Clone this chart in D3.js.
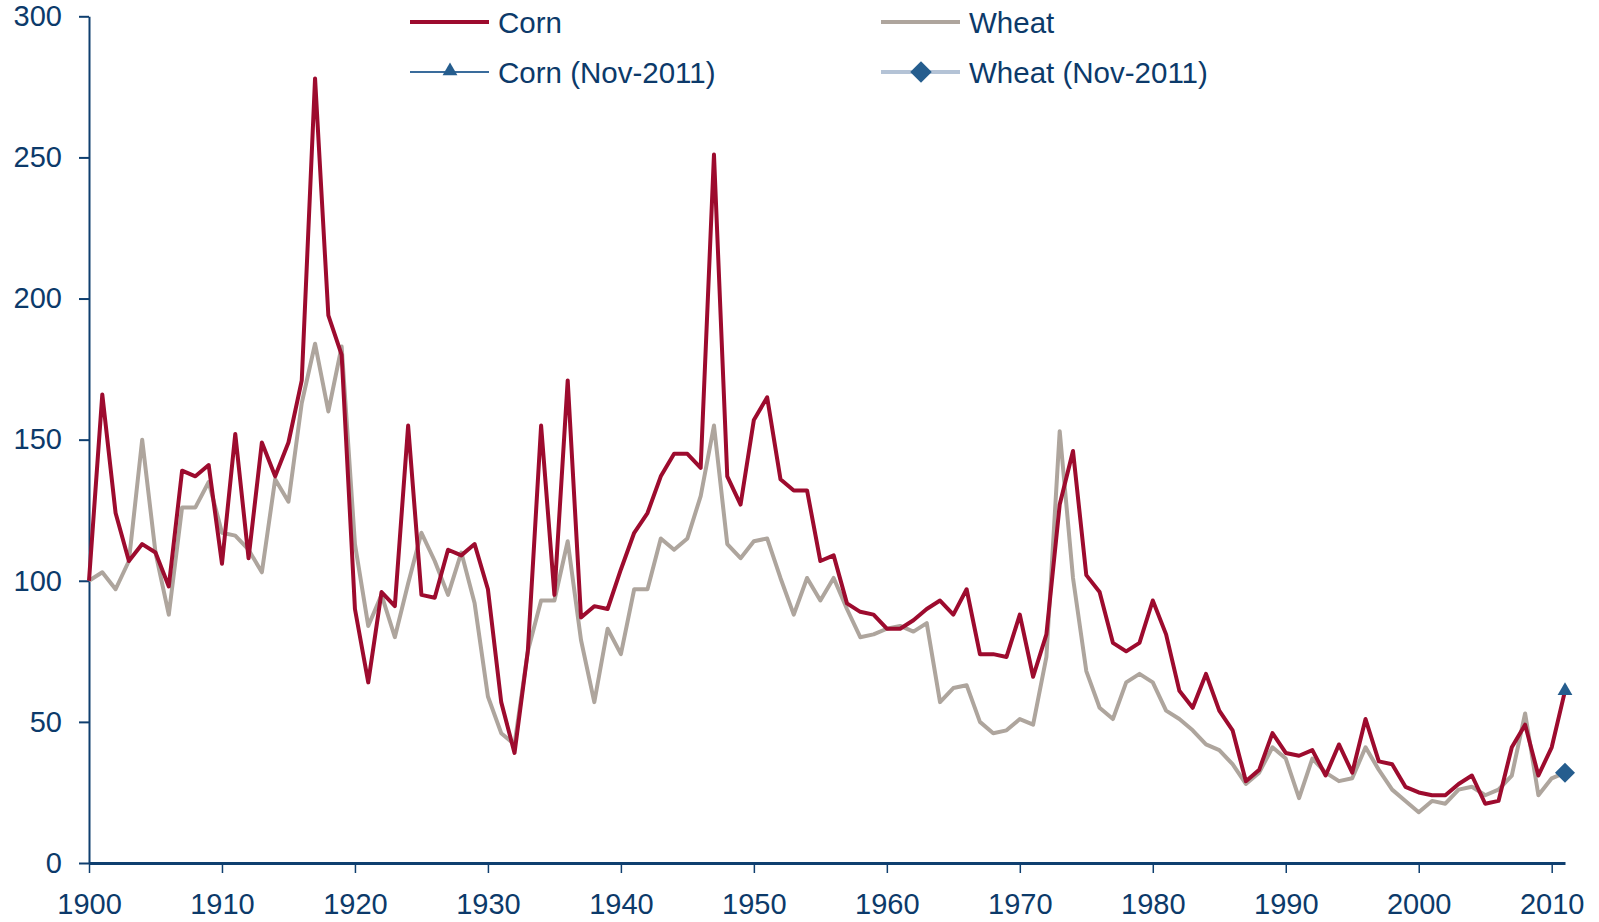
<!DOCTYPE html>
<html>
<head>
<meta charset="utf-8">
<script src="https://cdn.jsdelivr.net/npm/d3@7"></script>
<style>
  html, body { margin: 0; padding: 0; background: #fff; }
  svg { display: block; font-family: "Liberation Sans", Arial, sans-serif; }
</style>
</head>
<body>
<div id="chart"></div>
<script>
// Years 1900 - 2011
const years = d3.range(1900, 2012);

// Corn index (1900 = 100)
const corn = [
  100, 166, 124, 107, 113, 110, 98, 139, 137, 141,
  106, 152, 108, 149, 137, 149, 171, 278, 194, 180,
  90, 64, 96, 91, 155, 95, 94, 111, 109, 113,
  97, 57, 39, 75, 155, 95, 171, 87, 91, 90,
  104, 117, 124, 137, 145, 145, 140, 251, 137, 127,
  157, 165, 136, 132, 132, 107, 109, 92, 89, 88,
  83, 83, 86, 90, 93, 88, 97, 74, 74, 73,
  88, 66, 81, 127, 146, 102, 96, 78, 75, 78,
  93, 81, 61, 55, 67, 54, 47, 29, 33, 46,
  39, 38, 40, 31, 42, 32, 51, 36, 35, 27,
  25, 24, 24, 28, 31, 21, 22, 41, 49, 31,
  41, 61
];

// Wheat index (1900 = 100)
const wheat = [
  100, 103, 97, 107, 150, 110, 88, 126, 126, 135,
  117, 116, 111, 103, 136, 128, 163, 184, 160, 183,
  113, 84, 95, 80, 99, 117, 107, 95, 110, 92,
  59, 46, 42, 75, 93, 93, 114, 79, 57, 83,
  74, 97, 97, 115, 111, 115, 130, 155, 113, 108,
  114, 115, 101, 88, 101, 93, 101, 90, 80, 81,
  83, 84, 82, 85, 57, 62, 63, 50, 46, 47,
  51, 49, 73, 153, 101, 68, 55, 51, 64, 67,
  64, 54, 51, 47, 42, 40, 35, 28, 32, 41,
  37, 23, 37, 32, 29, 30, 41, 33, 26, 22,
  18, 22, 21, 26, 27, 24, 26, 31, 53, 24,
  30, 32
];

// Nov-2011 points
const cornNov2011 = [{ year: 2011, value: 61 }];
const wheatNov2011 = [{ year: 2011, value: 32 }];

const yTicks = [0, 50, 100, 150, 200, 250, 300];
const xTicks = d3.range(1900, 2011, 10);

const colors = {
  corn: "#9d0b2e",
  wheat: "#aea59d",
  marker: "#255d8e",
  wheatNovLine: "#b4c3d6",
  axis: "#0f3f6f",
  text: "#0c3a6a"
};

const width = 1599, height = 922;

const svg = d3.select("#chart").append("svg")
  .attr("width", width)
  .attr("height", height);

const x = d3.scaleLinear().domain([1900, 2011]).range([89, 1565]);
const y = d3.scaleLinear().domain([0, 300]).range([863, 16.3]);

// Y axis
const yAxis = svg.append("g")
  .attr("transform", `translate(${x(1900)},0)`)
  .call(d3.axisLeft(y).tickValues(yTicks).tickSize(10).tickSizeOuter(0).tickPadding(17));
yAxis.select(".domain").attr("stroke", colors.axis).attr("stroke-width", 2);
yAxis.selectAll(".tick line").attr("stroke", colors.axis).attr("stroke-width", 2);
yAxis.selectAll(".tick text")
  .attr("fill", colors.text)
  .attr("font-size", 29)
  .attr("font-family", "Liberation Sans, Arial, sans-serif");

// X axis
const xAxis = svg.append("g")
  .attr("transform", `translate(0,${y(0)})`)
  .call(d3.axisBottom(x).tickValues(xTicks).tickFormat(d3.format("d"))
    .tickSize(10).tickSizeOuter(0).tickPadding(20));
xAxis.select(".domain").attr("stroke", colors.axis).attr("stroke-width", 3);
xAxis.selectAll(".tick line").attr("stroke", colors.axis).attr("stroke-width", 1.5);
xAxis.selectAll(".tick text")
  .attr("fill", colors.text)
  .attr("font-size", 29)
  .attr("font-family", "Liberation Sans, Arial, sans-serif");

// Lines
const line = d3.line()
  .x((d, i) => x(years[i]))
  .y(d => y(d));

svg.append("path")
  .datum(wheat)
  .attr("d", line)
  .attr("fill", "none")
  .attr("stroke", colors.wheat)
  .attr("stroke-width", 4)
  .attr("stroke-linejoin", "round");

svg.append("path")
  .datum(corn)
  .attr("d", line)
  .attr("fill", "none")
  .attr("stroke", colors.corn)
  .attr("stroke-width", 4)
  .attr("stroke-linejoin", "round");

// Nov-2011 markers
const triangle = d3.symbol().type(d3.symbolTriangle).size(95);
const diamond = d3.symbol().type(d3.symbolSquare).size(200);

svg.selectAll(".corn-nov")
  .data(cornNov2011)
  .enter().append("path")
  .attr("class", "corn-nov")
  .attr("d", triangle)
  .attr("transform", d => `translate(${x(d.year)},${y(d.value)})`)
  .attr("fill", colors.marker);

svg.selectAll(".wheat-nov")
  .data(wheatNov2011)
  .enter().append("path")
  .attr("class", "wheat-nov")
  .attr("d", diamond)
  .attr("transform", d => `translate(${x(d.year)},${y(d.value)}) rotate(45)`)
  .attr("fill", colors.marker);

// Legend
const legend = svg.append("g").attr("class", "legend");

const legendItems = [
  { label: "Corn", x: 410, y: 22, line: colors.corn, lw: 4, marker: null },
  { label: "Wheat", x: 881, y: 22, line: colors.wheat, lw: 4, marker: null },
  { label: "Corn (Nov-2011)", x: 410, y: 72, line: "#3a6c9c", lw: 2, marker: "triangle" },
  { label: "Wheat (Nov-2011)", x: 881, y: 72, line: colors.wheatNovLine, lw: 4, marker: "diamond" }
];

legendItems.forEach(d => {
  const g = legend.append("g").attr("transform", `translate(${d.x},${d.y})`);
  g.append("line")
    .attr("x1", 0).attr("x2", 79)
    .attr("y1", 0).attr("y2", 0)
    .attr("stroke", d.line)
    .attr("stroke-width", d.lw);
  if (d.marker === "triangle") {
    g.append("path").attr("d", triangle)
      .attr("transform", "translate(40,-1)")
      .attr("fill", colors.marker);
  }
  if (d.marker === "diamond") {
    g.append("path").attr("d", d3.symbol().type(d3.symbolSquare).size(230))
      .attr("transform", "translate(40,0) rotate(45)")
      .attr("fill", colors.marker);
  }
  g.append("text")
    .attr("x", 88)
    .attr("y", 0)
    .attr("dy", "0.36em")
    .attr("fill", colors.text)
    .attr("font-size", 29.5)
    .text(d.label);
});
</script>
</body>
</html>
